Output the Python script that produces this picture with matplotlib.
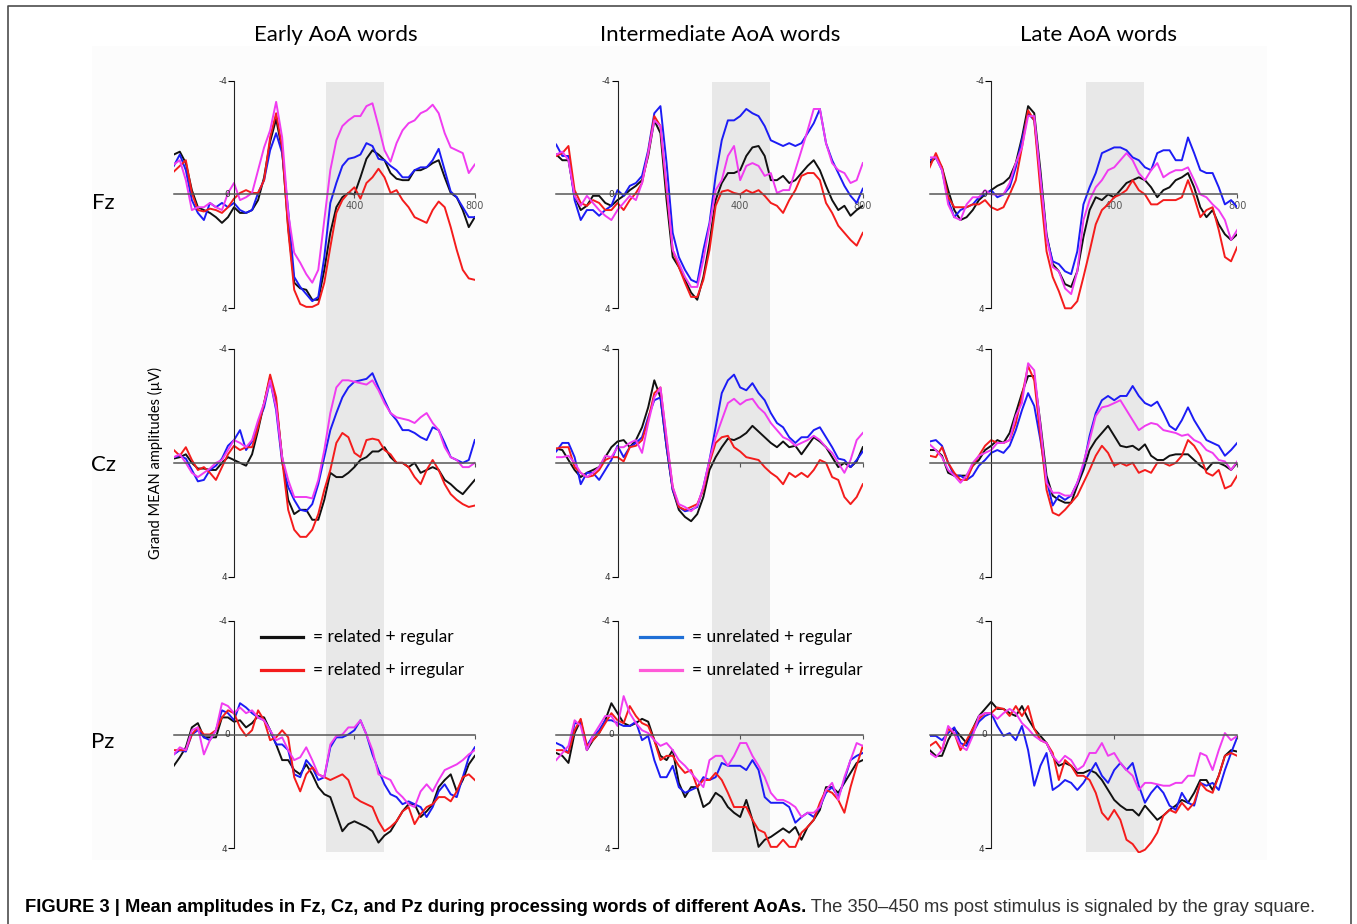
import numpy as np
import matplotlib
matplotlib.use("Agg")
import matplotlib.pyplot as plt
from matplotlib import font_manager
from matplotlib.lines import Line2D
from matplotlib.patches import Rectangle

# time axis (ms) and grand mean amplitudes (uV), every 20 ms
T = np.arange(-200, 801, 20)

# ---- Fz ----
EARLY_FZ_RR = [-1.4, -1.5, -1.1, -0.15, 0.45, 0.55, 0.65, 0.8, 1.0, 0.8,
               0.45, 0.65, 0.65, 0.55, 0.2, -0.6, -1.85, -2.65, -1.55, 1.15,
               3.1, 3.3, 3.35, 3.7, 3.7, 2.65, 1.35, 0.45, 0.1, -0.05,
               0.0, -0.6, -1.25, -1.55, -1.4, -1.2, -0.75, -0.55, -0.5, -0.5,
               -0.85, -0.85, -0.95, -1.1, -1.2, -0.6, -0.05, 0.1, 0.55, 1.15, 0.8]
EARLY_FZ_UR = [-1.0, -1.4, -0.85, 0.2, 0.65, 0.9, 0.3, 0.45, 0.3, 0.45,
               0.3, 0.55, 0.65, 0.55, -0.05, -0.5, -1.55, -2.15, -1.45, 0.55,
               2.9, 3.25, 3.5, 3.75, 3.6, 2.2, 0.3, -0.4, -1.0, -1.25,
               -1.3, -1.4, -1.8, -1.7, -1.25, -1.2, -1.0, -0.85, -0.6, -0.6,
               -0.85, -0.95, -0.95, -1.2, -1.6, -0.85, -0.1, 0.1, 0.45, 0.8, 0.8]
EARLY_FZ_RI = [-0.8, -1.0, -1.2, -0.05, 0.55, 0.6, 0.5, 0.55, 0.65, 0.45,
               0.15, -0.05, -0.15, -0.05, -0.05, -0.5, -2.0, -2.85, -1.65, 1.25,
               3.35, 3.85, 3.95, 3.95, 3.85, 3.1, 1.85, 0.65, 0.2, -0.05,
               -0.25, 0.15, -0.4, -0.6, -0.9, -0.6, -0.05, -0.15, 0.2, 0.45,
               0.8, 0.9, 1.0, 0.55, 0.25, 0.45, 1.15, 1.95, 2.65, 2.95, 3.0]
EARLY_FZ_UI = [-1.05, -1.2, -0.5, 0.55, 0.45, 0.45, 0.3, 0.45, 0.55, -0.05,
               -0.4, 0.2, 0.1, -0.05, -0.85, -1.65, -2.25, -3.25, -2.0, 0.65,
               2.05, 2.4, 2.8, 3.1, 2.65, 0.9, -0.85, -1.9, -2.4, -2.6,
               -2.75, -2.75, -3.1, -3.2, -2.4, -1.55, -1.15, -1.8, -2.25, -2.5,
               -2.6, -2.85, -2.95, -3.15, -2.85, -2.15, -1.65, -1.55, -1.45, -0.75, -1.05]

INTER_FZ_RR = [-1.4, -1.2, -1.2, 0.05, 0.55, 0.4, 0.05, 0.05, 0.3, 0.4,
               0.2, 0.05, -0.15, -0.3, -0.5, -1.35, -2.6, -2.15, 0.2, 2.2,
               2.55, 3.0, 3.45, 3.7, 2.9, 1.7, 0.2, -0.4, -0.75, -0.75,
               -0.85, -1.35, -1.65, -1.7, -1.35, -0.5, -0.5, -0.65, -0.4, -0.5,
               -0.75, -1.0, -1.2, -0.85, -0.3, 0.2, 0.55, 0.4, 0.75, 0.55, 0.4]
INTER_FZ_UR = [-1.75, -1.35, -1.35, 0.2, 0.9, 0.55, 0.55, 0.75, 0.55, 0.4,
               -0.15, 0.05, -0.3, -0.4, -0.65, -1.55, -2.85, -3.1, -1.1, 1.35,
               2.2, 2.65, 3.0, 3.1, 1.95, 1.0, -0.65, -1.9, -2.6, -2.6,
               -2.75, -3.0, -2.85, -2.75, -2.4, -1.9, -1.8, -1.7, -1.8, -1.7,
               -1.8, -2.15, -2.5, -3.0, -1.8, -1.2, -0.75, -0.3, 0.05, 0.3, -0.2]
INTER_FZ_RI = [-1.35, -1.45, -1.7, -0.15, 0.3, 0.4, 0.2, 0.3, 0.55, 0.55,
               0.3, 0.55, 0.2, -0.05, -0.4, -1.45, -2.75, -2.4, -0.15, 1.95,
               2.55, 3.1, 3.6, 3.6, 3.0, 1.95, 0.4, -0.1, -0.15, -0.05,
               0.0, -0.15, -0.05, -0.15, 0.05, 0.3, 0.4, 0.65, 0.2, -0.15,
               -0.65, -0.75, -0.75, -0.5, 0.3, 0.65, 1.1, 1.35, 1.6, 1.8, 1.35]
INTER_FZ_UI = [-1.4, -1.5, -1.2, 0.05, 0.4, 0.05, 0.3, 0.55, 0.75, 0.9,
               0.55, 0.3, 0.05, 0.2, -0.4, -1.45, -2.6, -2.4, -0.3, 1.95,
               2.4, 2.9, 3.25, 3.25, 2.3, 1.1, -0.15, -0.5, -1.35, -1.7,
               -0.5, -1.0, -1.1, -1.0, -0.65, -0.75, -0.05, -0.15, -0.15, -0.85,
               -1.55, -2.25, -3.0, -3.0, -1.8, -1.1, -0.85, -0.75, -0.4, -0.5, -1.1]

LATE_FZ_RR = [-1.1, -1.3, -0.95, -0.15, 0.55, 0.9, 0.8, 0.55, 0.2, 0.0,
              -0.15, -0.3, -0.4, -0.6, -1.1, -2.0, -3.1, -2.85, -0.85, 1.4,
              2.45, 2.7, 3.15, 3.25, 2.7, 1.5, 0.55, 0.1, 0.2, 0.0,
              0.1, -0.15, -0.4, -0.5, -0.6, -0.5, -0.25, 0.1, -0.15, -0.25,
              -0.5, -0.6, -0.75, -0.25, 0.45, 0.8, 0.55, 1.05, 1.4, 1.6, 1.4]
LATE_FZ_UR = [-1.2, -1.3, -0.85, 0.2, 0.8, 0.55, 0.45, 0.35, 0.1, 0.0,
              -0.15, 0.1, 0.0, -0.25, -0.95, -1.9, -2.85, -2.6, -0.6, 1.5,
              2.35, 2.45, 2.7, 2.8, 2.0, 0.35, -0.25, -0.75, -1.45, -1.55,
              -1.65, -1.65, -1.55, -1.3, -1.2, -0.95, -0.85, -1.45, -1.55, -1.55,
              -1.2, -1.2, -2.0, -1.45, -0.85, -0.75, -0.75, -0.25, 0.35, 0.2, 0.45]
LATE_FZ_RI = [-0.95, -1.45, -0.95, 0.1, 0.45, 0.45, 0.45, 0.35, 0.35, 0.2,
              0.45, 0.55, 0.45, 0.0, -0.5, -1.65, -2.95, -2.6, -0.15, 2.0,
              2.9, 3.4, 4.0, 4.0, 3.75, 2.9, 2.0, 1.05, 0.55, 0.35,
              0.1, 0.0, -0.15, -0.5, -0.15, 0.0, 0.35, 0.35, 0.2, 0.2,
              0.2, 0.1, -0.5, 0.1, 0.8, 0.55, 0.45, 1.25, 2.2, 2.35, 1.85]
LATE_FZ_UI = [-1.3, -1.3, -0.85, 0.35, 0.8, 0.9, 0.35, 0.1, 0.1, -0.15,
              0.0, 0.0, 0.0, -0.4, -1.1, -1.65, -2.75, -2.75, -0.6, 1.5,
              2.55, 2.7, 3.3, 3.5, 2.7, 0.9, 0.2, -0.25, -0.5, -0.85,
              -0.95, -1.2, -1.45, -1.2, -0.75, -0.5, -0.85, -1.1, -0.6, -0.75,
              -0.85, -0.85, -0.95, -0.5, 0.0, 0.1, 0.35, 0.55, 0.9, 1.6, 1.25]

# ---- Cz ----
EARLY_CZ_RR = [-0.15, -0.2, -0.3, 0.0, 0.2, 0.2, 0.25, 0.25, 0.0, -0.2,
               -0.1, 0.0, 0.1, -0.3, -1.15, -2.1, -3.0, -2.1, -0.2, 1.3,
               1.8, 1.65, 1.65, 2.0, 2.0, 1.3, 0.35, 0.5, 0.5, 0.35,
               0.15, -0.1, -0.2, -0.4, -0.4, -0.55, -0.2, 0.0, 0.0, 0.15,
               0.0, 0.35, 0.25, 0.15, 0.25, 0.6, 0.75, 0.95, 1.1, 0.85, 0.6]
EARLY_CZ_UR = [-0.2, -0.25, -0.15, 0.25, 0.65, 0.6, 0.25, 0.1, -0.15, -0.6,
               -0.8, -1.15, -0.45, -0.75, -1.4, -1.95, -2.9, -1.85, 0.0, 0.85,
               1.3, 1.65, 1.7, 1.45, 0.75, -0.2, -1.15, -1.75, -2.3, -2.65,
               -2.85, -2.9, -2.95, -3.15, -2.65, -2.2, -1.75, -1.5, -1.15, -1.15,
               -1.05, -0.9, -0.8, -1.25, -1.15, -0.7, -0.2, -0.1, 0.0, -0.1, -0.8]
EARLY_CZ_RI = [-0.45, -0.25, -0.55, -0.1, 0.25, 0.15, 0.35, 0.6, 0.15, -0.3,
               -0.6, -0.45, -0.55, -0.55, -1.25, -2.1, -3.1, -2.3, -0.1, 1.65,
               2.35, 2.6, 2.6, 2.35, 1.8, 0.95, 0.25, -0.7, -1.05, -0.9,
               -0.35, -0.2, -0.8, -0.85, -0.8, -0.45, -0.3, 0.0, 0.0, 0.15,
               0.5, 0.75, 0.25, -0.1, 0.25, 0.75, 1.1, 1.3, 1.45, 1.55, 1.5]
EARLY_CZ_UI = [-0.2, -0.3, 0.0, 0.35, 0.5, 0.35, 0.2, 0.0, -0.1, -0.45,
               -0.8, -0.7, -0.55, -0.8, -1.5, -2.1, -2.9, -1.95, -0.2, 0.6,
               1.2, 1.2, 1.2, 1.25, 0.6, -0.45, -1.75, -2.65, -2.9, -2.9,
               -2.85, -2.8, -2.75, -2.9, -2.55, -2.1, -1.75, -1.6, -1.55, -1.5,
               -1.4, -1.6, -1.75, -1.4, -1.15, -0.55, -0.2, -0.1, 0.15, 0.15, 0.0]

INTER_CZ_RR = [-0.5, -0.45, -0.1, 0.25, 0.5, 0.35, 0.25, 0.15, -0.2, -0.55,
               -0.75, -0.8, -0.55, -0.8, -1.25, -1.95, -2.9, -2.3, -0.55, 0.95,
               1.65, 1.9, 2.05, 1.8, 1.2, 0.25, -0.2, -0.55, -0.85, -0.8,
               -0.9, -1.05, -1.3, -1.1, -0.9, -0.7, -0.55, -0.75, -0.55, -0.6,
               -0.3, -0.6, -0.9, -0.75, -0.55, -0.2, 0.15, 0.0, 0.15, -0.05, -0.55]
INTER_CZ_UR = [-0.4, -0.7, -0.7, -0.2, 0.75, 0.35, 0.35, 0.6, 0.25, -0.1,
               -0.6, -0.2, -0.55, -0.7, -0.9, -1.6, -2.2, -2.3, -0.55, 0.95,
               1.55, 1.7, 1.65, 1.55, 0.85, -0.1, -1.25, -2.45, -2.9, -3.1,
               -2.65, -2.55, -2.8, -2.45, -2.2, -1.75, -1.4, -1.25, -0.9, -0.7,
               -0.9, -0.9, -1.15, -1.25, -0.9, -0.55, -0.15, -0.1, 0.15, -0.1, -0.4]
INTER_CZ_RI = [-0.5, -0.55, -0.55, 0.15, 0.35, 0.5, 0.45, 0.25, -0.1, -0.2,
               -0.2, -0.05, -0.55, -0.6, -0.8, -1.5, -2.45, -2.65, -0.8, 0.85,
               1.55, 1.65, 1.55, 1.45, 0.95, 0.0, -0.7, -0.9, -0.95, -0.55,
               -0.4, -0.2, -0.15, -0.1, 0.15, 0.35, 0.5, 0.75, 0.35, 0.5,
               0.35, 0.5, 0.25, -0.1, 0.0, 0.5, 0.6, 1.2, 1.45, 1.2, 0.75]
INTER_CZ_UI = [-0.2, -0.2, -0.25, 0.0, 0.35, 0.5, 0.35, 0.15, -0.25, -0.2,
               -0.55, -0.55, -0.7, -0.8, -0.35, -1.4, -2.3, -2.65, -0.9, 0.85,
               1.45, 1.55, 1.7, 1.5, 0.85, -0.1, -0.9, -1.5, -2.1, -2.25,
               -2.05, -2.2, -2.25, -1.95, -1.75, -1.4, -1.15, -0.9, -0.8, -0.6,
               -0.7, -0.8, -0.95, -0.8, -0.55, -0.35, 0.0, 0.35, -0.1, -0.8, -1.05]

LATE_CZ_RR = [-0.45, -0.45, -0.25, 0.35, 0.45, 0.45, 0.45, 0.1, -0.1, -0.45,
              -0.6, -0.8, -0.7, -1.05, -1.75, -2.45, -3.05, -3.05, -1.4, 0.45,
              1.15, 1.3, 1.4, 1.4, 0.8, 0.25, -0.45, -0.8, -1.05, -1.3,
              -0.95, -0.6, -0.55, -0.6, -0.45, -0.65, -0.25, -0.1, -0.1, -0.25,
              -0.3, -0.3, -0.3, -0.1, 0.1, 0.25, 0.0, 0.0, 0.1, 0.25, 0.0]
LATE_CZ_UR = [-0.75, -0.8, -0.6, 0.0, 0.45, 0.45, 0.6, 0.45, 0.1, -0.1,
              -0.35, -0.45, -0.35, -0.6, -1.15, -1.85, -2.45, -2.0, -0.8, 0.6,
              1.5, 1.15, 1.3, 1.15, 0.7, 0.1, -0.95, -1.75, -2.2, -2.35,
              -2.2, -2.35, -2.35, -2.7, -2.35, -2.1, -2.0, -2.15, -1.75, -1.3,
              -1.15, -1.5, -1.95, -1.5, -1.15, -0.8, -0.7, -0.6, -0.25, -0.45, -0.7]
LATE_CZ_RI = [-0.25, -0.2, -0.55, 0.0, 0.35, 0.6, 0.6, 0.1, -0.25, -0.6,
              -0.8, -0.7, -0.7, -0.8, -1.4, -2.35, -3.4, -2.9, -0.95, 0.95,
              1.75, 1.85, 1.65, 1.4, 1.15, 0.7, 0.25, -0.25, -0.6, -0.35,
              0.1, 0.0, 0.1, 0.0, 0.35, 0.25, 0.35, 0.0, 0.0, 0.1,
              0.0, -0.25, -0.8, -0.6, -0.25, 0.35, 0.45, 0.25, 0.9, 0.8, 0.45]
LATE_CZ_UI = [-0.65, -0.45, -0.2, 0.25, 0.45, 0.7, 0.45, 0.0, -0.25, -0.35,
              -0.45, -0.7, -0.7, -0.8, -1.65, -2.1, -3.5, -3.25, -1.3, 0.7,
              1.05, 1.05, 1.15, 1.15, 0.7, 0.0, -0.8, -1.65, -1.95, -2.0,
              -2.1, -2.2, -1.85, -1.5, -1.15, -1.3, -1.4, -1.35, -1.15, -1.1,
              -1.05, -0.95, -1.0, -0.8, -0.7, -0.45, -0.35, -0.1, -0.05, 0.25, -0.05]

# ---- Pz ----
EARLY_PZ_RR = [1.1, 0.8, 0.45, -0.25, -0.4, 0.1, 0.1, 0.1, -0.6, -0.6,
               -0.45, -0.5, -0.25, -0.4, -0.65, -0.6, -0.15, 0.35, 0.9, 0.9,
               1.25, 1.4, 1.05, 1.4, 1.85, 2.1, 2.2, 2.8, 3.4, 3.15,
               3.05, 3.15, 3.25, 3.4, 3.8, 3.55, 3.4, 3.05, 2.7, 2.45,
               2.45, 2.9, 2.7, 2.45, 1.85, 1.6, 1.4, 2.0, 1.6, 1.05, 0.75]
EARLY_PZ_UR = [0.7, 0.55, 0.6, 0.0, -0.15, 0.1, 0.2, -0.15, -0.85, -0.75,
               -0.5, -1.1, -0.95, -0.75, -0.6, -0.5, -0.15, 0.35, 0.35, 0.55,
               1.4, 1.5, 0.9, 1.15, 1.6, 1.5, 0.45, 0.1, 0.1, 0.0,
               -0.15, -0.5, 0.0, 0.7, 1.25, 1.75, 2.1, 2.2, 2.45, 2.35,
               2.45, 2.55, 2.9, 2.55, 2.0, 1.75, 2.1, 2.2, 1.5, 0.8, 0.45]
EARLY_PZ_RI = [0.55, 0.55, 0.55, 0.0, -0.25, 0.0, 0.0, -0.15, -0.6, -0.85,
               -0.75, -0.25, 0.05, -0.15, -0.85, -0.5, 0.2, 0.1, -0.15, 0.1,
               1.5, 2.0, 1.4, 1.15, 1.4, 1.5, 1.6, 1.5, 1.4, 1.6,
               2.2, 2.35, 2.45, 2.55, 3.05, 3.4, 3.25, 3.05, 2.7, 2.55,
               3.15, 2.8, 2.55, 2.45, 2.2, 2.2, 2.35, 2.0, 1.5, 1.4, 1.6]
EARLY_PZ_UI = [0.7, 0.45, 0.55, -0.15, -0.25, 0.7, 0.2, -0.15, -1.1, -1.0,
               -0.75, -0.95, -0.75, -0.85, -0.6, -0.5, -0.15, 0.2, 0.1, 0.55,
               0.9, 0.8, 0.45, 0.9, 1.4, 1.5, 0.35, 0.05, 0.0, -0.25,
               -0.25, -0.5, 0.0, 0.55, 1.4, 1.5, 1.6, 2.0, 2.2, 2.45,
               2.55, 2.0, 1.75, 2.0, 1.6, 1.25, 1.15, 1.05, 0.9, 0.7, 0.55]

INTER_PZ_RR = [0.65, 0.75, 1.0, -0.05, -0.5, 0.55, 0.2, -0.05, -0.5, -1.1,
               -0.75, -0.4, -0.3, -0.4, -0.55, -0.45, 0.2, 0.75, 0.9, 0.55,
               1.7, 2.2, 1.85, 1.85, 2.55, 2.4, 2.05, 2.2, 2.55, 2.75,
               2.9, 2.3, 3.0, 3.95, 3.7, 3.6, 3.45, 3.3, 3.45, 3.25,
               3.7, 3.25, 3.0, 2.65, 1.85, 1.85, 2.05, 1.7, 1.35, 1.0, 0.9]
INTER_PZ_UR = [0.3, 0.4, 0.65, -0.4, -0.4, 0.4, 0.05, -0.15, -0.5, -0.5,
               -0.4, -0.3, -0.3, -0.45, 0.2, 0.05, 0.9, 1.5, 1.5, 1.1,
               1.85, 2.05, 1.95, 1.85, 1.5, 1.6, 1.5, 1.0, 1.1, 1.1,
               1.1, 1.25, 0.9, 1.25, 2.2, 2.4, 2.4, 2.4, 2.55, 3.1,
               2.9, 2.75, 2.9, 2.55, 2.05, 1.85, 2.2, 1.6, 0.9, 0.75, 0.65]
INTER_PZ_RI = [0.55, 0.55, 0.65, -0.15, -0.55, 0.4, 0.2, -0.05, -0.4, -0.75,
               -0.5, -0.4, -1.0, -0.65, -0.4, -0.3, 0.2, 0.9, 0.75, 0.75,
               1.1, 1.35, 1.25, 1.85, 1.6, 1.6, 1.35, 1.6, 2.05, 2.55,
               2.55, 2.55, 3.0, 3.35, 3.45, 3.95, 3.95, 3.7, 3.95, 3.95,
               3.45, 3.25, 3.0, 2.4, 1.95, 2.05, 2.3, 2.75, 1.85, 1.1, 0.4]
INTER_PZ_UI = [0.9, 0.65, 0.4, -0.5, -0.3, 0.55, 0.05, -0.3, -0.65, -0.65,
               -0.3, -1.35, -0.75, -0.4, -0.15, -0.05, 0.2, 0.4, 0.3, 0.55,
               0.9, 1.1, 1.35, 1.6, 1.85, 0.9, 0.75, 0.75, 1.1, 0.75,
               0.3, 0.3, 0.75, 1.1, 1.5, 2.05, 2.3, 2.3, 2.4, 2.55,
               2.9, 2.75, 2.75, 2.55, 1.95, 1.7, 2.3, 1.5, 0.9, 0.3, 0.4]

LATE_PZ_RR = [0.55, 0.75, 0.75, 0.2, -0.2, 0.05, 0.3, -0.2, -0.65, -0.9,
              -1.15, -0.9, -0.9, -0.75, -0.65, -1.0, -0.55, -0.2, 0.05, 0.3,
              0.75, 1.1, 1.0, 1.1, 1.35, 1.35, 1.25, 1.35, 1.6, 1.95,
              2.3, 2.5, 2.65, 2.65, 2.85, 2.5, 2.75, 3.0, 2.85, 2.65,
              2.5, 2.3, 2.4, 2.05, 1.6, 1.6, 1.95, 1.45, 0.75, 0.55, 0.6]
LATE_PZ_UR = [0.05, 0.05, 0.2, -0.05, -0.25, 0.3, 0.4, -0.05, -0.45, -0.65,
              -0.75, -0.3, 0.05, -0.05, 0.2, -0.3, 0.55, 1.8, 1.1, 0.65,
              1.95, 1.8, 1.6, 1.7, 1.95, 1.7, 1.35, 1.0, 1.45, 1.7,
              1.25, 1.0, 1.25, 1.0, 1.8, 2.4, 2.05, 1.8, 2.05, 2.5,
              2.65, 2.05, 2.4, 2.5, 1.7, 1.8, 1.7, 1.95, 1.25, 0.65, 0.1]
LATE_PZ_RI = [0.4, 0.25, 0.55, -0.2, -0.05, 0.55, 0.2, -0.2, -0.55, -0.75,
              -0.75, -0.95, -0.9, -0.65, -1.0, -0.65, -1.0, -0.2, 0.2, 0.3,
              0.65, 1.6, 0.9, 1.1, 1.45, 1.45, 1.6, 2.05, 2.75, 3.0,
              2.65, 3.0, 3.7, 3.85, 4.15, 4.05, 3.8, 3.45, 2.85, 2.65,
              2.75, 2.4, 2.65, 2.4, 1.7, 1.95, 2.05, 1.45, 0.75, 0.65, 0.75]
LATE_PZ_UI = [0.65, 0.8, 0.55, -0.3, -0.05, 0.4, 0.55, 0.05, -0.65, -0.75,
              -0.75, -0.55, -0.75, -0.9, -0.75, -0.4, -0.2, 0.05, 0.2, 0.3,
              0.75, 1.0, 0.75, 0.9, 1.25, 1.1, 0.65, 0.65, 0.3, 0.75,
              0.65, 1.0, 1.25, 1.45, 1.95, 1.7, 1.7, 1.75, 1.8, 1.8,
              1.7, 1.7, 1.45, 1.45, 0.65, 0.75, 1.25, 0.55, -0.05, 0.2, 0.05]

COLUMNS = ["Early AoA words", "Intermediate AoA words", "Late AoA words"]
ROWS = ["Fz", "Cz", "Pz"]
CONDITIONS = ["= related + regular", "= related + irregular",
              "= unrelated + regular", "= unrelated + irregular"]
BAND = (307, 498)  # shaded window, ms (as drawn in the figure)

DATA = {
    ("Fz", 0): [EARLY_FZ_RR, EARLY_FZ_RI, EARLY_FZ_UR, EARLY_FZ_UI],
    ("Fz", 1): [INTER_FZ_RR, INTER_FZ_RI, INTER_FZ_UR, INTER_FZ_UI],
    ("Fz", 2): [LATE_FZ_RR, LATE_FZ_RI, LATE_FZ_UR, LATE_FZ_UI],
    ("Cz", 0): [EARLY_CZ_RR, EARLY_CZ_RI, EARLY_CZ_UR, EARLY_CZ_UI],
    ("Cz", 1): [INTER_CZ_RR, INTER_CZ_RI, INTER_CZ_UR, INTER_CZ_UI],
    ("Cz", 2): [LATE_CZ_RR, LATE_CZ_RI, LATE_CZ_UR, LATE_CZ_UI],
    ("Pz", 0): [EARLY_PZ_RR, EARLY_PZ_RI, EARLY_PZ_UR, EARLY_PZ_UI],
    ("Pz", 1): [INTER_PZ_RR, INTER_PZ_RI, INTER_PZ_UR, INTER_PZ_UI],
    ("Pz", 2): [LATE_PZ_RR, LATE_PZ_RI, LATE_PZ_UR, LATE_PZ_UI],
}

LINE_COLORS = ["#111111", "#f41c1c", "#1c1cf5", "#f03cf0"]
KEY_COLORS = ["#111111", "#f41c1c", "#1f6fd6", "#ff5ad8"]
DRAW_ORDER = [0, 2, 1, 3]

W, H = 1357, 924
COL_X = [(173.8, 474.8), (556.2, 862.8), (929.7, 1237.2)]   # px of -200 / 800 ms
ROW_Y = [(80.5, 308.3), (349.0, 576.7), (620.7, 848.3)]     # px of -4 / +4 uV
YPAD = 0.15

fig = plt.figure(figsize=(W / 100, H / 100), dpi=100)
fig.patch.set_facecolor("white")


def px_axes(x0, y0, x1, y1, **kw):
    return fig.add_axes([x0 / W, 1 - y1 / H, (x1 - x0) / W, (y1 - y0) / H], **kw)


# faint pasted-image background and open frame
fig.add_artist(Rectangle((92 / W, 1 - 860 / H), (1267 - 92) / W, (860 - 46) / H,
                         transform=fig.transFigure, facecolor="#fcfcfc", edgecolor="none", zorder=0))
fig.add_artist(Line2D([8 / W, 8 / W, 1351 / W, 1351 / W], [0, 1 - 6 / H, 1 - 6 / H, 0],
                      transform=fig.transFigure, color="#4d4d4d", lw=1.2))

# gray analysis window, one continuous strip per column
for c, (x0, x1) in enumerate(COL_X):
    bax = px_axes(x0, 82, x1, 852)
    bax.set_xlim(-200, 800)
    bax.axvspan(BAND[0], BAND[1], color="#e8e8e8", lw=0)
    bax.axis("off")

for r, row in enumerate(ROWS):
    ym4, yp4 = ROW_Y[r]
    ppu = (yp4 - ym4) / 8
    for c in range(3):
        x0, x1 = COL_X[c]
        ax = px_axes(x0, ym4 - YPAD * ppu, x1, yp4 + YPAD * ppu)
        ax.set_facecolor("none")
        for k in DRAW_ORDER:
            ax.plot(T, DATA[(row, c)][k], color=LINE_COLORS[k], lw=1.4, solid_joinstyle="round")
        ax.set_xlim(-200, 800)
        ax.set_ylim(4 + YPAD, -4 - YPAD)
        ax.spines[["top", "right"]].set_visible(False)
        ax.spines["left"].set_position(("data", 0))
        ax.spines["left"].set_bounds(-4, 4)
        ax.spines["left"].set_color("#222222")
        ax.spines["bottom"].set_position(("data", 0))
        ax.spines["bottom"].set_bounds(-200, 800)
        ax.spines["bottom"].set_color("#555555")
        ax.spines["bottom"].set_linewidth(1.1)
        ax.set_yticks([-4, 4], ["-4", "4"])
        ax.tick_params(axis="y", length=4, width=0.8, pad=1, labelsize=6.5, labelcolor="#333333")
        ax.set_xticks([400, 800], ["400", "800"] if r == 0 else ["", ""])
        ax.tick_params(axis="x", length=3, width=0.8, pad=2, labelsize=7, labelcolor="#555555",
                       color="#555555")
        if r != 1:
            ax.text(-12, 0, "0", ha="right", va="center", fontsize=6.5, color="#333333")

# titles, row labels, y label
for c, name in enumerate(COLUMNS):
    xm = [336, 720, 1099][c]
    fig.text(xm / W, 1 - 35 / H, name, ha="center", va="center", fontsize=16, family="Lato")
for r, row in enumerate(ROWS):
    fig.text(103 / W, 1 - [203, 465, 742][r] / H, row, ha="center", va="center",
             fontsize=16, family="Lato")
fig.text(155 / W, 1 - 463 / H, "Grand MEAN amplitudes (\u00b5V)", rotation=90,
         ha="center", va="center", fontsize=10.5, family="Lato")

# condition key
KEY_POS = [(261, 637), (261, 670), (640, 637), (640, 670)]
for k, (kx, ky) in enumerate(KEY_POS):
    fig.add_artist(Line2D([kx / W, (kx + 42) / W], [1 - ky / H, 1 - ky / H],
                          transform=fig.transFigure, color=KEY_COLORS[k], lw=2.3))
    fig.text((kx + 52) / W, 1 - ky / H, CONDITIONS[k], ha="left", va="center",
             fontsize=12.5, family="Lato")

# caption
try:
    font_manager.findfont(font_manager.FontProperties(family="Liberation Sans Narrow"),
                          fallback_to_default=False)
    cap_family = "Liberation Sans Narrow"
except ValueError:
    cap_family = "Liberation Sans"
cap_y = 1 - 908 / H
size = 12.5
t1 = fig.text(25 / W, cap_y, "FIGURE 3 | Mean amplitudes in Fz, Cz, and Pz during processing words of different AoAs.",
              ha="left", va="center", fontsize=size, fontweight="bold", family=cap_family)
t2 = fig.text(0, cap_y, " The 350\u2013450 ms post stimulus is signaled by the gray square.",
              ha="left", va="center", fontsize=size, family=cap_family, color="#333333")
renderer = fig.canvas.get_renderer()
total = t1.get_window_extent(renderer).width + t2.get_window_extent(renderer).width
scale = (1318 - 25) / total
t1.set_fontsize(size * scale)
t2.set_fontsize(size * scale)
w1 = t1.get_window_extent(renderer).width
t2.set_x((25 + w1) / W)

fig.savefig("out.png", dpi=100)
